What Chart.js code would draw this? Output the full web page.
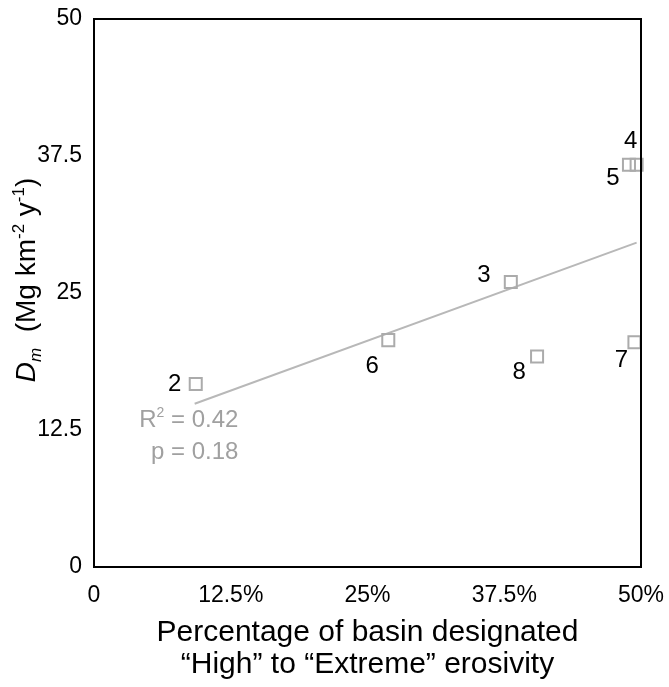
<!DOCTYPE html>
<html>
<head>
<meta charset="utf-8">
<script src="https://cdn.jsdelivr.net/npm/chart.js@4.4.1/dist/chart.umd.min.js"></script>
<style>
  html, body { margin: 0; padding: 0; background: #fff; }
</style>
</head>
<body>
<canvas id="myChart" width="669" height="687"></canvas>
<script>
// sites 2..8, Dm vs share of basin with high-extreme erosivity
const siteIds = ['2', '3', '4', '5', '6', '7', '8'];
const basinPct = [9.3, 38.1, 49.6, 48.9, 26.9, 49.4, 40.5];
const dmValues = [16.7, 26.0, 36.7, 36.7, 20.7, 20.5, 19.2];

// fitted line
const trendX = [9.2, 49.6];
const trendY = [14.9, 29.6];

const xTicks = [0, 12.5, 25, 37.5, 50];
const yTicks = [0, 12.5, 25, 37.5, 50];

const r2Text = '0.42';
const pText = '0.18';

const FONT = '"Liberation Sans", Arial, sans-serif';
const GREY = '#ababab';

// where each site number sits next to its square (px)
const labelOffsets = [[-21, 0], [-27, -7], [-6, -23], [-16, 14], [-16, 26], [-13, 18], [-18, 16]];

// chart.js adds room for the end tick labels, we don't want that here
function noEdgePadding(scale) {
  scale.paddingTop = 0;
  scale.paddingBottom = 0;
  scale.paddingLeft = 0;
  scale.paddingRight = 0;
}

const frame = {
  id: 'frame',
  afterDatasetsDraw(chart) {
    const a = chart.chartArea;
    const ctx = chart.ctx;
    ctx.save();
    ctx.strokeStyle = '#000';
    ctx.lineWidth = 2;
    ctx.strokeRect(a.left, a.top, a.right - a.left, a.bottom - a.top);
    ctx.restore();
  }
};

const siteLabels = {
  id: 'siteLabels',
  afterDatasetsDraw(chart) {
    const ctx = chart.ctx;
    const meta = chart.getDatasetMeta(0);
    ctx.save();
    ctx.font = '24px ' + FONT;
    ctx.fillStyle = '#000';
    ctx.textAlign = 'center';
    ctx.textBaseline = 'middle';
    meta.data.forEach(function (pt, i) {
      ctx.fillText(siteIds[i], pt.x + labelOffsets[i][0], pt.y + labelOffsets[i][1]);
    });

    // R2 / p text, right aligned
    const xs = chart.scales.x, ys = chart.scales.y;
    const rx = xs.getPixelForValue(13.2);
    ctx.fillStyle = '#a0a0a0';
    ctx.textAlign = 'right';
    ctx.font = '24px ' + FONT;
    const tail = ' = ' + r2Text;
    const wTail = ctx.measureText(tail).width;
    const y1 = ys.getPixelForValue(13.4);
    ctx.fillText(tail, rx, y1);
    ctx.font = '14px ' + FONT;
    const w2 = ctx.measureText('2').width;
    ctx.fillText('2', rx - wTail, y1 - 7);
    ctx.font = '24px ' + FONT;
    ctx.fillText('R', rx - wTail - w2, y1);
    ctx.fillText('p = ' + pText, rx, ys.getPixelForValue(10.5));
    ctx.restore();
  }
};

const yTitle = {
  id: 'yTitle',
  afterDraw(chart) {
    const ctx = chart.ctx;
    const parts = [
      { t: 'D', f: 'italic 28px ' + FONT, dy: 0 },
      { t: 'm', f: 'italic 17px ' + FONT, dy: 6 },
      { t: '  (Mg km', f: '28px ' + FONT, dy: 0 },
      { t: '-2', f: '17px ' + FONT, dy: -11 },
      { t: ' y', f: '28px ' + FONT, dy: 0 },
      { t: '-1', f: '17px ' + FONT, dy: -11 },
      { t: ')', f: '28px ' + FONT, dy: 0 }
    ];
    ctx.save();
    let total = 0;
    parts.forEach(function (p) { ctx.font = p.f; p.w = ctx.measureText(p.t).width; total += p.w; });
    ctx.translate(35, 280);
    ctx.rotate(-Math.PI / 2);
    ctx.fillStyle = '#000';
    ctx.textBaseline = 'alphabetic';
    ctx.textAlign = 'left';
    let x = -total / 2;
    parts.forEach(function (p) {
      ctx.font = p.f;
      ctx.fillText(p.t, x, p.dy);
      x += p.w;
    });
    ctx.restore();
  }
};

const ctx = document.getElementById('myChart').getContext('2d');
const myChart = new Chart(ctx, {
  type: 'scatter',
  data: {
    datasets: [{
      label: 'sites',
      data: basinPct.map((v, i) => ({ x: v, y: dmValues[i] })),
      pointStyle: 'rect',
      pointRadius: 8.5,
      pointHoverRadius: 8.5,
      pointBackgroundColor: 'rgba(0,0,0,0)',
      pointBorderColor: GREY,
      pointBorderWidth: 2,
      clip: false
    }, {
      type: 'line',
      label: 'fit',
      data: trendX.map((v, i) => ({ x: v, y: trendY[i] })),
      borderColor: '#b8b8b8',
      borderWidth: 2,
      pointRadius: 0,
      fill: false
    }]
  },
  options: {
    responsive: false,
    animation: false,
    devicePixelRatio: 1,
    layout: { padding: { left: 0, top: 19, right: 28, bottom: 0 } },
    plugins: {
      legend: { display: false },
      tooltip: { enabled: false }
    },
    scales: {
      x: {
        type: 'linear',
        min: 0,
        max: 50,
        grid: { display: false, drawTicks: false },
        border: { display: false },
        afterBuildTicks: function (scale) { scale.ticks = xTicks.map(v => ({ value: v })); },
        afterFit: function (scale) { scale.height = 120; noEdgePadding(scale); },
        ticks: {
          padding: 15,
          color: '#000',
          maxRotation: 0,
          font: { family: FONT, size: 23 },
          callback: function (v) { return v === 0 ? '0' : v + '%'; }
        },
        title: {
          display: true,
          text: ['Percentage of basin designated', '\u201cHigh\u201d to \u201cExtreme\u201d erosivity'],
          color: '#000',
          font: { family: FONT, size: 30, lineHeight: 1.07 },
          padding: { top: 0, bottom: 6 }
        }
      },
      y: {
        type: 'linear',
        min: 0,
        max: 50,
        grid: { display: false, drawTicks: false },
        border: { display: false },
        afterBuildTicks: function (scale) { scale.ticks = yTicks.map(v => ({ value: v })); },
        afterFit: function (scale) { scale.width = 94; noEdgePadding(scale); },
        ticks: {
          padding: 12,
          color: '#000',
          font: { family: FONT, size: 23 },
          callback: function (v) { return String(v); }
        }
      }
    }
  },
  plugins: [frame, siteLabels, yTitle]
});
</script>
</body>
</html>
